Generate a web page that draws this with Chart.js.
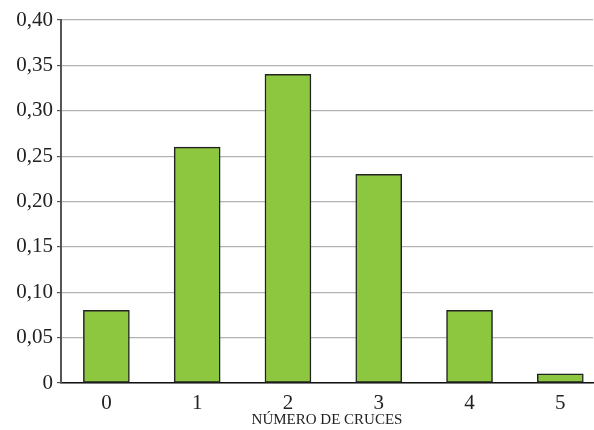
<!DOCTYPE html>
<html lang="es">
<head>
  <meta charset="UTF-8">
  <title>Número de cruces</title>
  <script src="https://cdn.jsdelivr.net/npm/chart.js@4.4.1/dist/chart.umd.min.js"></script>
  <style>
    html, body { margin: 0; padding: 0; background: #fff; }
  </style>
</head>
<body>
  <canvas id="myChart" width="594" height="430"></canvas>
  <script>
    const categories = [0, 1, 2, 3, 4, 5];
    const probabilities = [0.08, 0.26, 0.34, 0.23, 0.08, 0.01];
    const yTicks = [0, 0.05, 0.10, 0.15, 0.20, 0.25, 0.30, 0.35, 0.40];

    const ctx = document.getElementById('myChart').getContext('2d');
    const myChart = new Chart(ctx, {
      type: 'bar',
      data: {
        datasets: [{
          data: categories.map((c, i) => ({ x: c, y: probabilities[i] })),
          backgroundColor: '#8dc63f',
          borderColor: '#222',
          borderWidth: 1.5,
          borderSkipped: false,
          barThickness: 46
        }]
      },
      options: {
        responsive: false,
        animation: false,
        layout: { padding: { top: 20, right: 1, left: 0, bottom: 0 } },
        plugins: { legend: { display: false }, tooltip: { enabled: false } },
        scales: {
          x: {
            type: 'linear',
            offset: false,
            min: -0.5,
            max: 5.36,
            afterBuildTicks: (axis) => { axis.ticks = categories.map(v => ({ value: v })); },
            grid: { display: false, drawTicks: false },
            border: { color: '#111', width: 1.5 },
            ticks: {
              padding: 8,
              color: '#222',
              font: { family: 'Liberation Serif', size: 21 },
              callback: (v) => String(v)
            },
            title: {
              display: true,
              text: 'NÚMERO DE CRUCES',
              color: '#222',
              padding: { top: 0, bottom: 1 },
              font: { family: 'Liberation Serif', size: 15 }
            },
            afterFit: (axis) => { axis.height = 47; }
          },
          y: {
            min: 0,
            max: 0.40,
            afterBuildTicks: (axis) => { axis.ticks = yTicks.map(v => ({ value: v })); },
            grid: { color: '#b3b3b3', lineWidth: 1.2, tickLength: 4, tickColor: '#555' },
            border: { color: '#555', width: 2 },
            ticks: {
              padding: 4,
              color: '#222',
              font: { family: 'Liberation Serif', size: 21 },
              callback: (v) => v === 0 ? '0' : v.toFixed(2).replace('.', ',')
            },
            afterFit: (axis) => { axis.width = 61; }
          }
        }
      }
    });
  </script>
</body>
</html>
